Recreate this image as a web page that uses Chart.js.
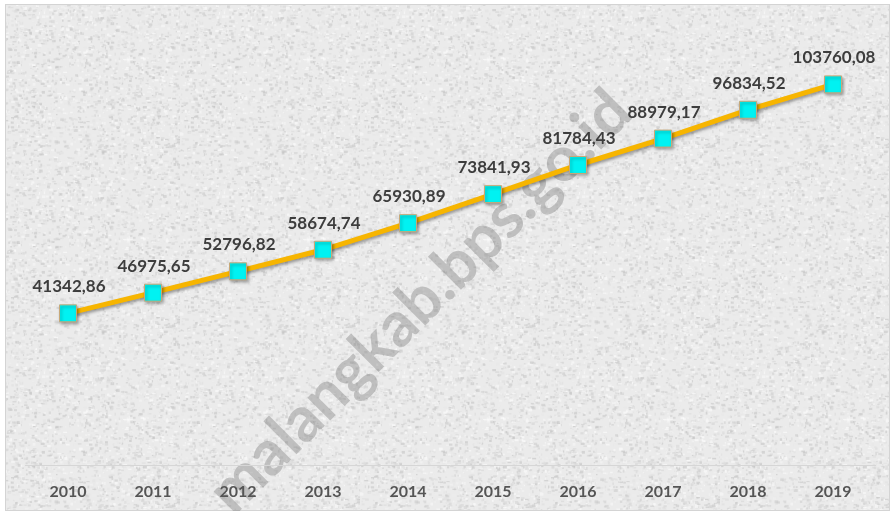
<!DOCTYPE html>
<html>
<head>
<meta charset="utf-8">
<script src="https://cdn.jsdelivr.net/npm/chart.js@4"></script>
<style>
  html, body { margin: 0; padding: 0; background: #fff; }
  #chart { display: block; }
</style>
</head>
<body>
<canvas id="chart" width="894" height="513"></canvas>
<script>
/* ── Data ──────────────────────────────────── */
const years  = ['2010','2011','2012','2013','2014','2015','2016','2017','2018','2019'];
const values = [41342.86, 46975.65, 52796.82, 58674.74, 65930.89, 73841.93, 81784.43, 88979.17, 96834.52, 103760.08];
const yRange = [0, 120000];
const watermark = 'malangkab.bps.go.id';

/* ── Paper texture ─────────────────────────── */
function paperPattern(ctx) {
  const t = document.createElement('canvas');
  t.width = 180; t.height = 180;
  const c = t.getContext('2d');
  c.fillStyle = '#ebebeb';
  c.fillRect(0, 0, 180, 180);
  let seed = 7;
  const rnd = () => (seed = (seed * 16807) % 2147483647) / 2147483647;
  for (let i = 0; i < 3200; i++) {
    const g = Math.round(195 + rnd() * 60);
    c.fillStyle = `rgba(${g},${g},${g},0.6)`;
    c.fillRect(rnd() * 180, rnd() * 180, 1 + rnd() * 3, 1 + rnd() * 2);
  }
  return ctx.createPattern(t, 'repeat');
}

const fmt = v => v.toFixed(2).replace('.', ',');

/* ── Plugins ───────────────────────────────── */
const backdrop = {
  id: 'backdrop',
  beforeDraw(chart) {
    const ctx = chart.ctx;
    ctx.save();
    ctx.fillStyle = paperPattern(ctx);
    ctx.fillRect(5, 4, 885, 507);
    ctx.strokeStyle = '#d4d4d4';
    ctx.lineWidth = 1;
    ctx.strokeRect(5.5, 4.5, 884, 506);
    // watermark
    ctx.beginPath();
    ctx.rect(5, 4, 885, 507);
    ctx.clip();
    ctx.translate(420, 302);
    ctx.rotate(-Math.PI / 4);
    ctx.font = 'bold 63px Lato';
    ctx.fillStyle = 'rgba(115,115,115,0.36)';
    ctx.textAlign = 'center';
    ctx.textBaseline = 'middle';
    ctx.fillText(watermark, 0, 0);
    ctx.restore();
  }
};

const shadow = {
  id: 'shadow',
  beforeDatasetDraw(chart) {
    const ctx = chart.ctx;
    ctx.save();
    ctx.shadowColor = 'rgba(0,0,0,0.35)';
    ctx.shadowOffsetX = 1.5;
    ctx.shadowOffsetY = 2;
    ctx.shadowBlur = 3;
  },
  afterDatasetDraw(chart) { chart.ctx.restore(); }
};

const valueLabels = {
  id: 'valueLabels',
  afterDatasetsDraw(chart) {
    const ctx = chart.ctx;
    const meta = chart.getDatasetMeta(0);
    ctx.save();
    ctx.font = 'bold 17px Lato';
    ctx.fillStyle = '#3d3d3d';
    ctx.textAlign = 'center';
    ctx.textBaseline = 'alphabetic';
    meta.data.forEach((pt, i) => {
      ctx.fillText(fmt(values[i]), pt.x + 1, pt.y - 21);
    });
    ctx.restore();
  }
};

/* ── Chart ─────────────────────────────────── */
new Chart(document.getElementById('chart'), {
  type: 'line',
  data: {
    labels: years,
    datasets: [{
      data: values,
      borderColor: '#f7b500',
      borderWidth: 5,
      pointStyle: 'rect',
      pointRadius: 12,
      pointBackgroundColor: '#00f2f2',
      pointBorderColor: '#c8a878',
      pointBorderWidth: 1,
      tension: 0,
    }]
  },
  options: {
    responsive: false,
    animation: false,
    layout: { padding: { left: 25.5, right: 18.5, top: 24.8, bottom: 0 } },
    plugins: { legend: { display: false }, tooltip: { enabled: false } },
    scales: {
      x: {
        offset: true,
        grid: { display: false, drawTicks: false },
        border: { color: '#d6d6d6', width: 1 },
        ticks: { color: '#555555', font: { family: 'Lato', size: 16, weight: 'bold' }, padding: 17 },
        afterFit: s => { s.height = 48; }
      },
      y: { display: false, min: yRange[0], max: yRange[1] }
    }
  },
  plugins: [backdrop, shadow, valueLabels]
});
</script>
</body>
</html>
